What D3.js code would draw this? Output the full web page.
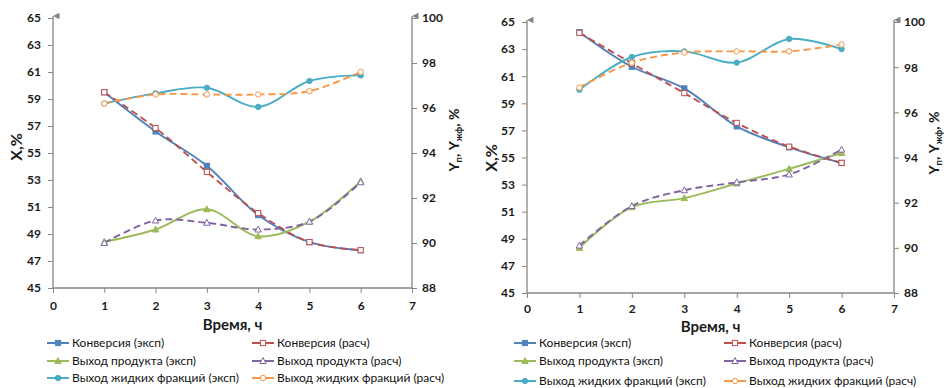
<!DOCTYPE html>
<html><head><meta charset="utf-8">
<script src="https://cdn.jsdelivr.net/npm/d3@7/dist/d3.min.js"></script>
<style>body{margin:0;background:#fff}svg{display:block}text{font-family:Lato,"Open Sans",sans-serif}</style>
</head><body><svg id="c" width="944" height="388"></svg>
<script>
const timeH = [1,2,3,4,5,6];
const xTickVals = [0,1,2,3,4,5,6,7];
const leftTickVals = [45,47,49,51,53,55,57,59,61,63,65];
const rightTickVals = [88,90,92,94,96,98,100];
const seriesNames = ["Конверсия (эксп)","Конверсия (расч)","Выход продукта (эксп)","Выход продукта (расч)","Выход жидких фракций (эксп)","Выход жидких фракций (расч)"];
const xTitle = "Время, ч";

// Chart A (left)
const A_convExp = [59.5,56.6,54.05,50.4,48.4,47.8];
const A_convCalc = [59.5,56.85,53.6,50.55,48.4,47.8];
const A_prodExp = [90.05,90.6,91.5,90.3,90.95,92.75];
const A_prodCalc = [90.0,91.0,90.9,90.6,90.95,92.7];
const A_liqExp = [96.2,96.65,96.9,96.05,97.2,97.45];
const A_liqCalc = [96.2,96.6,96.6,96.6,96.75,97.6];

// Chart B (right)
const B_convExp = [64.25,61.7,60.1,57.3,55.75,54.6];
const B_convCalc = [64.2,61.95,59.75,57.55,55.8,54.6];
const B_prodExp = [90.0,91.8,92.2,92.85,93.5,94.2];
const B_prodCalc = [90.1,91.85,92.55,92.9,93.25,94.35];
const B_liqExp = [97.0,98.45,98.7,98.2,99.25,98.8];
const B_liqCalc = [97.1,98.2,98.65,98.7,98.7,99.0];

const colors = ["#4F81BD","#C0504D","#9BBB59","#8064A2","#4BACC6","#F79646"];
const markers = ["square","square","triangle","triangle","circle","circle"];
const dashed = [false,true,false,true,false,true];
const axisOnRight = [false,false,true,true,true,true];

const svg = d3.select("#c");
const defs = svg.append("defs");
defs.append("marker").attr("id","arr").attr("viewBox","0 0 10 10").attr("refX",5).attr("refY",0)
  .attr("markerWidth",5).attr("markerHeight",5).attr("orient","auto-start-reverse")
  .append("path").attr("d","M0,10 L5,0 L10,10 Z").attr("fill","#868686");

function drawMarker(g, type, x, y, color, open){
  const fill = open ? "#fff" : color;
  if(type==="square") g.append("rect").attr("x",x-2.6).attr("y",y-2.6).attr("width",5.2).attr("height",5.2).attr("fill",fill).attr("stroke",color).attr("stroke-width",1);
  else if(type==="triangle") g.append("path").attr("d",`M${x},${y-3.4}L${x+3.2},${y+2.5}L${x-3.2},${y+2.5}Z`).attr("fill",fill).attr("stroke",color).attr("stroke-width",1);
  else g.append("circle").attr("cx",x).attr("cy",y).attr("r",2.7).attr("fill",fill).attr("stroke",color).attr("stroke-width",1);
}

function drawChart(cfg, data){
  const g = svg.append("g");
  const x = d3.scaleLinear().domain([0,7]).range([cfg.x0,cfg.x1]);
  const yL = d3.scaleLinear().domain([45,65]).range([cfg.yb,cfg.yt]);
  const yR = d3.scaleLinear().domain([88,100]).range([cfg.yb,cfg.yt]);

  const axX = g.append("g").attr("transform",`translate(0,${cfg.yb})`)
    .call(d3.axisBottom(x).tickValues(xTickVals).tickSize(5).tickPadding(cfg.xPad).tickFormat(d3.format("d")));
  const axL = g.append("g").attr("transform",`translate(${cfg.x0},0)`)
    .call(d3.axisLeft(yL).tickValues(leftTickVals).tickSize(5).tickPadding(7).tickFormat(d3.format("d")));
  const axR = g.append("g").attr("transform",`translate(${cfg.x1},0)`)
    .call(d3.axisRight(yR).tickValues(rightTickVals).tickSize(5).tickPadding(5).tickFormat(d3.format("d")));
  [axX,axL,axR].forEach(a=>{
    a.select(".domain").attr("stroke","#868686").attr("stroke-width",1.3);
    a.selectAll(".tick line").attr("stroke","#868686");
    a.selectAll(".tick text").attr("font-size",12).attr("font-weight","bold").attr("fill","#1a1a1a");
  });
  axL.select(".domain").remove(); axR.select(".domain").remove();
  g.append("line").attr("x1",cfg.x0).attr("x2",cfg.x0).attr("y1",cfg.yb).attr("y2",cfg.yt-2).attr("stroke","#868686").attr("stroke-width",1.3).attr("marker-end","url(#arr)");
  g.append("line").attr("x1",cfg.x1).attr("x2",cfg.x1).attr("y1",cfg.yb).attr("y2",cfg.yt-2).attr("stroke","#868686").attr("stroke-width",1.3).attr("marker-end","url(#arr)");
  axX.select(".domain").attr("d",`M${cfg.x0},0H${cfg.x1}`);

  g.append("text").attr("x",(cfg.x0+cfg.x1)/2).attr("y",cfg.xtY).attr("text-anchor","middle")
    .attr("font-size",15).attr("font-weight","bold").attr("fill","#1a1a1a").text(xTitle);
  g.append("text").attr("transform",`translate(${cfg.ylX},${cfg.ylY}) rotate(-90)`).attr("text-anchor","middle")
    .attr("font-size",16).attr("font-weight","bold").attr("fill","#1a1a1a").text("X,%");
  const rt = g.append("text").attr("transform",`translate(${cfg.yrX},${cfg.yrY}) rotate(-90)`).attr("text-anchor","middle")
    .attr("font-size",14).attr("font-weight","bold").attr("fill","#1a1a1a");
  rt.append("tspan").text("Y");
  rt.append("tspan").attr("font-size",9.5).attr("dy",2.5).text("п");
  rt.append("tspan").attr("dy",-2.5).text(", Y");
  rt.append("tspan").attr("font-size",9.5).attr("dy",2.5).text("жф");
  rt.append("tspan").attr("dy",-2.5).text(", %");

  const curve = d3.curveCatmullRom.alpha(0.5);
  data.forEach((vals,i)=>{
    const ys = axisOnRight[i] ? yR : yL;
    const line = d3.line().x((d,j)=>x(timeH[j])).y(d=>ys(d)).curve(curve);
    g.append("path").attr("d",line(vals)).attr("fill","none").attr("stroke",colors[i])
      .attr("stroke-width",1.9).attr("stroke-dasharray",dashed[i]?"7,4":null);
  });
  data.forEach((vals,i)=>{
    const ys = axisOnRight[i] ? yR : yL;
    vals.forEach((v,j)=>drawMarker(g,markers[i],x(timeH[j]),ys(v),colors[i],dashed[i]));
  });

  seriesNames.forEach((name,i)=>{
    const col = i%2, row = Math.floor(i/2);
    const lx = cfg.legX[col], ly = cfg.legY[row];
    g.append("line").attr("x1",lx).attr("x2",lx+22).attr("y1",ly).attr("y2",ly).attr("stroke",colors[i]).attr("stroke-width",2);
    drawMarker(g,markers[i],lx+11,ly,colors[i],dashed[i]);
    g.append("text").attr("x",lx+25).attr("y",ly+4).attr("font-size",12).attr("fill","#111").text(name);
  });
}

drawChart({x0:53,x1:412,yt:18,yb:288,xPad:8,xtY:330,ylX:22,ylY:147,yrX:459,yrY:140,legX:[47,252],legY:[343,361,378]},
  [A_convExp,A_convCalc,A_prodExp,A_prodCalc,A_liqExp,A_liqCalc]);
drawChart({x0:527,x1:894,yt:22,yb:293,xPad:6,xtY:332,ylX:497,ylY:158,yrX:939,yrY:143,legX:[514,724],legY:[343,361,381]},
  [B_convExp,B_convCalc,B_prodExp,B_prodCalc,B_liqExp,B_liqCalc]);
</script></body></html>
